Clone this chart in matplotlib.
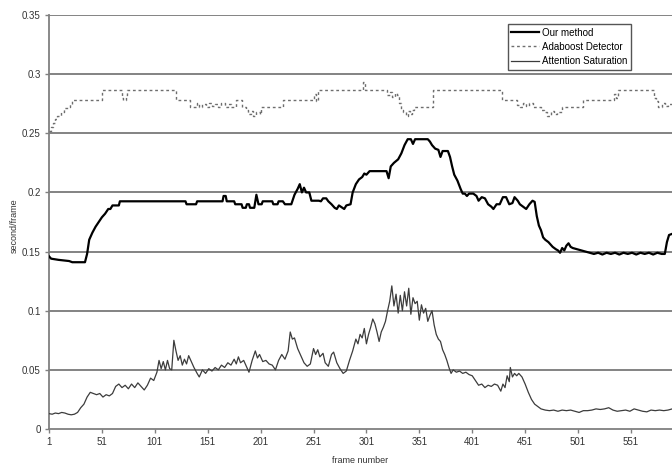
import matplotlib
matplotlib.use('Agg')
import matplotlib.pyplot as plt

plt.rcParams['font.family'] = ['Liberation Sans', 'DejaVu Sans']

# per-frame processing time (second/frame), sampled off the run
att_frames = [1, 4, 7, 10, 13, 16, 19, 22, 25, 28, 31, 34, 37, 40, 43, 46, 49, 52, 55, 58,
              61, 64, 67, 70, 73, 76, 79, 82, 85, 88, 91, 94, 97, 100, 103, 105, 107, 109, 111, 113,
              115, 117, 119, 121, 123, 125, 127, 129, 131, 133, 135, 138, 141, 143, 146, 149, 152, 155, 158, 161,
              164, 167, 170, 173, 176, 178, 180, 182, 185, 188, 190, 193, 196, 198, 200, 203, 206, 209, 212, 215,
              218, 221, 224, 227, 229, 231, 233, 236, 239, 242, 245, 248, 251, 253, 255, 257, 260, 262, 265, 268,
              270, 273, 276, 279, 282, 285, 288, 291, 293, 295, 297, 299, 301, 303, 305, 307, 309, 311, 313, 315,
              317, 319, 321, 323, 325, 327, 329, 331, 333, 335, 337, 339, 341, 343, 345, 347, 349, 351, 353, 355,
              357, 359, 361, 363, 365, 367, 369, 371, 373, 375, 377, 379, 381, 383, 386, 389, 392, 395, 398, 401,
              404, 407, 410, 413, 416, 419, 422, 425, 428, 430, 432, 434, 436, 437, 439, 441, 443, 445, 448, 451,
              454, 457, 460, 463, 466, 470, 474, 478, 482, 486, 490, 494, 498, 502, 506, 510, 514, 518, 522, 526,
              530, 534, 538, 542, 546, 550, 554, 558, 562, 566, 570, 574, 578, 582, 586, 590]
att_vals = [0.013, 0.0125, 0.0135, 0.013, 0.014, 0.0135, 0.0125, 0.012, 0.0125, 0.014, 0.018, 0.021, 0.027, 0.031, 0.030, 0.029, 0.030, 0.027, 0.029, 0.028,
            0.030, 0.036, 0.038, 0.035, 0.037, 0.034, 0.038, 0.035, 0.039, 0.036, 0.033, 0.037, 0.043, 0.041, 0.048, 0.058, 0.051, 0.057, 0.050, 0.058,
            0.051, 0.050, 0.075, 0.066, 0.058, 0.062, 0.054, 0.059, 0.055, 0.062, 0.058, 0.052, 0.047, 0.044, 0.050, 0.047, 0.051, 0.049, 0.052, 0.050,
            0.054, 0.052, 0.056, 0.054, 0.059, 0.055, 0.061, 0.056, 0.058, 0.052, 0.048, 0.058, 0.066, 0.060, 0.063, 0.057, 0.058, 0.055, 0.054, 0.050,
            0.058, 0.063, 0.059, 0.066, 0.082, 0.076, 0.077, 0.068, 0.062, 0.056, 0.053, 0.055, 0.068, 0.063, 0.067, 0.061, 0.064, 0.056, 0.053, 0.063,
            0.065, 0.056, 0.051, 0.047, 0.049, 0.058, 0.066, 0.076, 0.072, 0.080, 0.077, 0.085, 0.072, 0.080, 0.086, 0.093, 0.089, 0.082, 0.074, 0.082,
            0.086, 0.091, 0.100, 0.108, 0.121, 0.104, 0.114, 0.098, 0.113, 0.100, 0.116, 0.104, 0.119, 0.097, 0.111, 0.106, 0.108, 0.092, 0.105, 0.098,
            0.102, 0.091, 0.096, 0.100, 0.088, 0.080, 0.076, 0.074, 0.067, 0.063, 0.058, 0.052, 0.047, 0.050, 0.048, 0.049, 0.047, 0.048, 0.046, 0.045,
            0.041, 0.037, 0.038, 0.035, 0.037, 0.036, 0.038, 0.037, 0.032, 0.038, 0.035, 0.045, 0.040, 0.052, 0.044, 0.047, 0.045, 0.047, 0.044, 0.038,
            0.031, 0.025, 0.021, 0.019, 0.017, 0.016, 0.0155, 0.016, 0.015, 0.016, 0.0155, 0.016, 0.015, 0.014, 0.0155, 0.0155, 0.016, 0.017, 0.0165, 0.017,
            0.018, 0.016, 0.015, 0.0155, 0.016, 0.015, 0.017, 0.016, 0.015, 0.0145, 0.016, 0.0155, 0.016, 0.0155, 0.016, 0.017]

our_frames = [1, 3, 10, 20, 23, 35, 37, 39, 42, 45, 48, 51, 54, 57, 59, 61, 67, 68, 130, 131,
              140, 141, 165, 166, 168, 169, 176, 177, 183, 184, 187, 188, 190, 191, 195, 197, 199, 202, 203, 212,
              213, 217, 218, 222, 224, 230, 233, 236, 238, 240, 242, 244, 247, 249, 256, 258, 260, 263, 265, 268,
              271, 273, 275, 280, 282, 286, 288, 291, 294, 297, 299, 301, 304, 316, 320, 322, 324, 327, 331, 334,
              337, 340, 343, 345, 347, 359, 361, 363, 366, 369, 371, 373, 378, 380, 382, 384, 387, 390, 392, 394,
              396, 398, 402, 405, 407, 410, 413, 416, 419, 421, 424, 427, 430, 433, 436, 439, 441, 444, 446, 449,
              452, 455, 458, 460, 462, 464, 466, 468, 470, 473, 475, 477, 480, 482, 484, 486, 488, 490, 492, 494,
              496, 500, 504, 508, 512, 516, 520, 524, 528, 532, 536, 540, 544, 548, 552, 556, 560, 564, 568, 572,
              576, 580, 583, 585, 587, 590]
our_vals = [0.146, 0.144, 0.143, 0.142, 0.141, 0.141, 0.148, 0.160, 0.166, 0.171, 0.175, 0.179, 0.182, 0.186, 0.186, 0.189, 0.189, 0.1925, 0.1925, 0.190,
            0.190, 0.1925, 0.1925, 0.197, 0.197, 0.1925, 0.1925, 0.190, 0.190, 0.187, 0.187, 0.190, 0.190, 0.187, 0.187, 0.198, 0.190, 0.190, 0.1925, 0.1925,
            0.190, 0.190, 0.1925, 0.1925, 0.190, 0.190, 0.198, 0.203, 0.207, 0.200, 0.204, 0.200, 0.200, 0.193, 0.193, 0.1925, 0.195, 0.195, 0.1925, 0.190,
            0.187, 0.186, 0.189, 0.186, 0.189, 0.190, 0.200, 0.207, 0.211, 0.213, 0.216, 0.215, 0.218, 0.218, 0.218, 0.212, 0.222, 0.225, 0.228, 0.233,
            0.240, 0.245, 0.245, 0.241, 0.245, 0.245, 0.243, 0.240, 0.237, 0.236, 0.230, 0.235, 0.235, 0.230, 0.222, 0.215, 0.210, 0.203, 0.199, 0.199,
            0.197, 0.199, 0.199, 0.197, 0.193, 0.196, 0.195, 0.190, 0.188, 0.186, 0.190, 0.190, 0.196, 0.196, 0.190, 0.191, 0.196, 0.193, 0.190, 0.188,
            0.186, 0.190, 0.193, 0.192, 0.180, 0.172, 0.168, 0.162, 0.160, 0.158, 0.156, 0.154, 0.152, 0.151, 0.149, 0.153, 0.151, 0.155, 0.157, 0.154,
            0.153, 0.152, 0.151, 0.150, 0.149, 0.148, 0.149, 0.1475, 0.149, 0.148, 0.149, 0.1475, 0.149, 0.148, 0.149, 0.1475, 0.149, 0.148, 0.149, 0.1475,
            0.149, 0.148, 0.148, 0.158, 0.164, 0.165]

# adaboost timing changes in steps; each value holds until the next frame listed
ada_frames = [1, 3, 5, 7, 9, 12, 15, 19, 21, 23, 51, 70, 71, 74, 75, 121, 134, 141, 143, 146,
              149, 152, 155, 158, 161, 164, 167, 170, 173, 178, 183, 187, 189, 192, 194, 197, 200, 201, 222, 251,
              253, 255, 298, 300, 320, 323, 325, 328, 330, 332, 334, 336, 338, 340, 342, 344, 346, 364, 429, 443,
              446, 449, 452, 455, 458, 462, 466, 469, 472, 475, 478, 481, 486, 506, 535, 537, 539, 573, 575, 577,
              580, 583, 586, 590]
ada_vals = [0.252, 0.255, 0.259, 0.262, 0.265, 0.268, 0.271, 0.272, 0.275, 0.278, 0.287, 0.280, 0.278, 0.282, 0.287, 0.278, 0.272, 0.276, 0.272, 0.275,
            0.272, 0.276, 0.273, 0.275, 0.272, 0.276, 0.272, 0.275, 0.272, 0.278, 0.272, 0.270, 0.266, 0.269, 0.265, 0.268, 0.266, 0.272, 0.278, 0.283,
            0.277, 0.287, 0.293, 0.287, 0.282, 0.285, 0.281, 0.284, 0.282, 0.276, 0.270, 0.268, 0.265, 0.269, 0.266, 0.270, 0.272, 0.287, 0.278, 0.274,
            0.272, 0.276, 0.273, 0.276, 0.272, 0.272, 0.270, 0.268, 0.265, 0.269, 0.266, 0.268, 0.272, 0.278, 0.283, 0.280, 0.287, 0.280, 0.277, 0.272,
            0.276, 0.273, 0.275, 0.274]

xticks = [1, 51, 101, 151, 201, 251, 301, 351, 401, 451, 501, 551]
yticks = [0, 0.05, 0.1, 0.15, 0.2, 0.25, 0.3, 0.35]

fig = plt.figure(figsize=(6.72, 4.66), dpi=100)
ax = fig.add_axes([49/672, 1-429/466, 623/672, 414/466])

for y in yticks[1:]:
    ax.axhline(y, color='#7a7a7a', lw=1.3, zorder=1)

ax.plot(our_frames, our_vals, color='black', lw=1.6, label='Our method', zorder=3)
ax.plot(ada_frames, ada_vals, color='#6e6e6e', lw=1.0, ls=(0, (2, 2)), drawstyle='steps-post',
        label='Adaboost Detector', zorder=3)
ax.plot(att_frames, att_vals, color='#3c3c3c', lw=0.9, label='Attention Saturation', zorder=3)

ax.set_xlim(1, 589.8)
ax.set_ylim(0, 0.35)
ax.set_xticks(xticks)
ax.set_xticklabels([str(t) for t in xticks])
ax.set_yticks(yticks)
ax.set_yticklabels(['0', '0.05', '0.1', '0.15', '0.2', '0.25', '0.3', '0.35'])
ax.tick_params(labelsize=7, colors='#333333', length=3, width=1, direction='out', pad=3)
ax.tick_params(axis='both', color='#808080')

for s in ['top', 'right']:
    ax.spines[s].set_visible(False)
for s in ['left', 'bottom']:
    ax.spines[s].set_color('#808080')
    ax.spines[s].set_linewidth(1.3)

ax.set_xlabel('frame number', fontsize=6.5, color='#333333', labelpad=6)
ax.set_ylabel('second/frame', fontsize=6.5, color='#333333')
ax.yaxis.set_label_coords(-0.048, 0.49)

leg = ax.legend(loc='upper right', bbox_to_anchor=(0.934, 0.978), fontsize=7, fancybox=False,
                handlelength=2.9, handletextpad=0.3, borderpad=0.35, labelspacing=0.45,
                borderaxespad=0, framealpha=1)
leg.get_frame().set_edgecolor('#555555')
leg.get_frame().set_linewidth(1.0)

fig.savefig('out.png', dpi=100)
